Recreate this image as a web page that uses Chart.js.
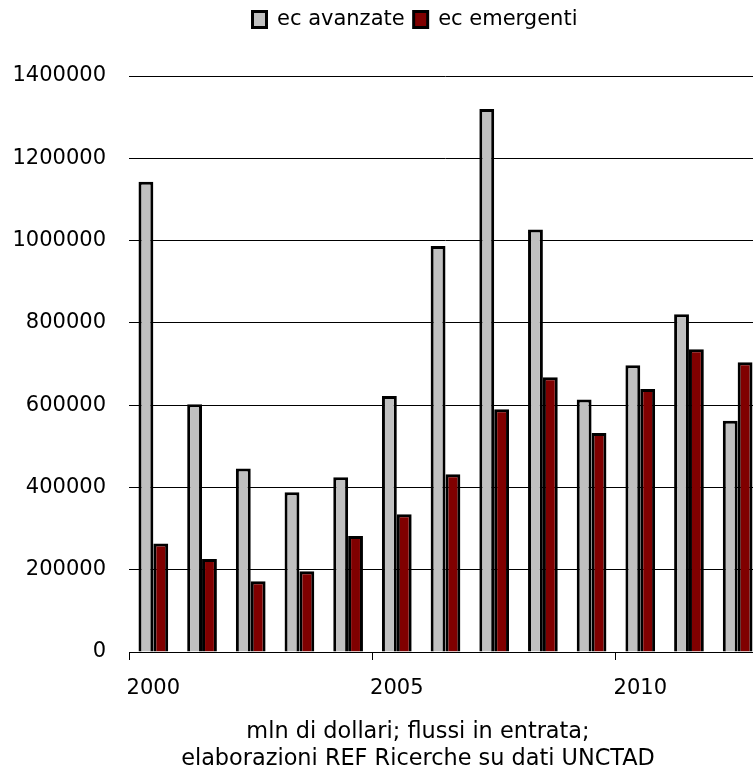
<!DOCTYPE html>
<html>
<head>
<meta charset="utf-8">
<script src="https://cdn.jsdelivr.net/npm/chart.js@4/dist/chart.umd.min.js"></script>
<style>
  html, body { margin: 0; padding: 0; background: #fff; overflow: hidden; }
  #wrap { position: relative; width: 770px; height: 767px; }
</style>
</head>
<body>
<div id="wrap"><canvas id="fdiChart"></canvas></div>
<script>
// anni e flussi in entrata (mln di dollari)
const years = ["2000", "2001", "2002", "2003", "2004", "2005", "2006",
               "2007", "2008", "2009", "2010", "2011", "2012"];
const avanzate = [1143000, 602000, 446000, 388000, 425000, 622000, 987000,
                  1320000, 1027000, 614000, 697000, 821000, 562000];
const emergenti = [264000, 226000, 172000, 196000, 282000, 335000, 432000,
                   590000, 668000, 532000, 639000, 736000, 704000];
const yTicks = [0, 200000, 400000, 600000, 800000, 1000000, 1200000, 1400000];
const caption = ["mln di dollari; flussi in entrata;",
                 "elaborazioni REF Ricerche su dati UNCTAD"];

document.addEventListener("DOMContentLoaded", function () {
    Chart.defaults.font.family = "'DejaVu Sans', Verdana, sans-serif";
    Chart.defaults.color = "#000";

    // room under the legend; legend and caption sit a bit right of canvas centre
    const boxTweaks = {
        id: "boxTweaks",
        beforeInit(chart) {
            const origFit = chart.legend.fit;
            chart.legend.fit = function () {
                origFit.bind(chart.legend)();
                this.height = 76;
            };
        },
        afterLayout(chart) {
            chart.legend.left += 34;
            chart.legend.right += 34;
            const t = chart.titleBlock;
            t.left += 37;
            t.right += 37;
            t.top += 6;
            t.bottom += 6;
        }
    };

    const ctx = document.getElementById("fdiChart").getContext("2d");
    new Chart(ctx, {
        type: "bar",
        data: {
            labels: years,
            datasets: [{
                label: "ec avanzate",
                data: avanzate,
                backgroundColor: "#c0c0c0",
                borderColor: "#000",
                borderWidth: 3,
                borderSkipped: "bottom"
            }, {
                label: "ec emergenti",
                data: emergenti,
                backgroundColor: "#800000",
                borderColor: "#000",
                borderWidth: 3,
                borderSkipped: "bottom"
            }]
        },
        options: {
            responsive: true,
            maintainAspectRatio: false,
            animation: false,
            layout: { padding: { left: 0, right: 8, top: 0, bottom: 0 } },
            datasets: {
                bar: { categoryPercentage: 0.61, barPercentage: 1.0 }
            },
            plugins: {
                legend: {
                    position: "top",
                    labels: {
                        font: { size: 21 },
                        boxWidth: 14,
                        boxHeight: 16,
                        padding: 9
                    }
                },
                title: {
                    display: true,
                    position: "bottom",
                    text: caption,
                    font: { size: 22.4, weight: "normal", lineHeight: 27 / 22.4 },
                    padding: 0
                },
                tooltip: { enabled: false }
            },
            scales: {
                x: {
                    grid: {
                        offset: true,
                        drawOnChartArea: false,
                        drawTicks: true,
                        tickLength: 8,
                        color: function (c) {
                            return c.index % 5 === 0 ? "#000" : "rgba(0,0,0,0)";
                        }
                    },
                    border: { display: true, color: "#000", width: 1 },
                    ticks: {
                        autoSkip: false,
                        maxRotation: 0,
                        padding: 16,
                        font: { size: 21 },
                        callback: function (val, i) {
                            return i % 5 === 0 ? years[i] : "";
                        }
                    },
                    afterFit: function (scale) { scale.height = 61; }
                },
                y: {
                    min: 0,
                    max: 1400000,
                    afterBuildTicks: function (scale) {
                        scale.ticks = yTicks.map(v => ({ value: v }));
                    },
                    grid: { color: "#000", drawTicks: false },
                    border: { display: false },
                    ticks: {
                        padding: 23,
                        font: { size: 21 },
                        callback: v => String(v)
                    },
                    afterFit: function (scale) { scale.width = 129; }
                }
            }
        },
        plugins: [boxTweaks]
    });
});
</script>
</body>
</html>
